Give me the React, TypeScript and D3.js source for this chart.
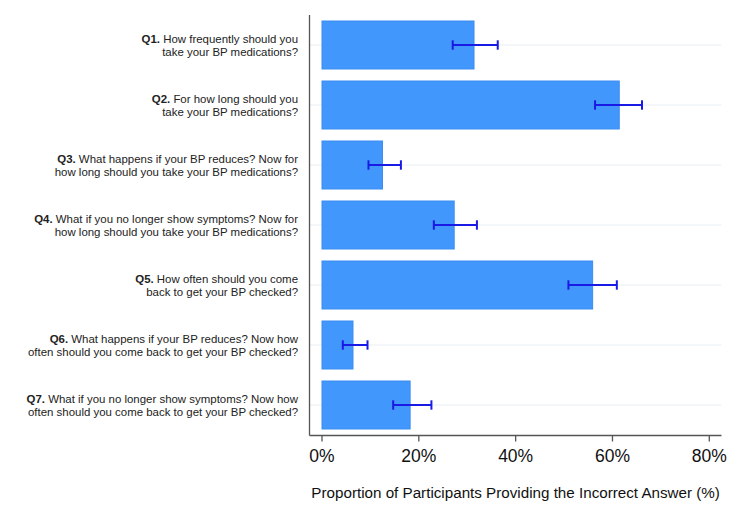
import React from "react";
import * as d3 from "d3";

const questionIds = ["Q1.", "Q2.", "Q3.", "Q4.", "Q5.", "Q6.", "Q7."];
const questionLines: string[][] = [
  ["How frequently should you", "take your BP medications?"],
  ["For how long should you", "take your BP medications?"],
  ["What happens if your BP reduces? Now for", "how long should you take your BP medications?"],
  ["What if you no longer show symptoms? Now for", "how long should you take your BP medications?"],
  ["How often should you come", "back to get your BP checked?"],
  ["What happens if your BP reduces? Now how", "often should you come back to get your BP checked?"],
  ["What if you no longer show symptoms? Now how", "often should you come back to get your BP checked?"],
];
const values = [31.4, 61.4, 12.5, 27.3, 55.9, 6.4, 18.2];
const lower = [27.0, 56.4, 9.6, 23.1, 50.9, 4.3, 14.7];
const upper = [36.3, 66.1, 16.3, 32.0, 60.9, 9.4, 22.6];
const ticks = [0, 20, 40, 60, 80];
const xTitle = "Proportion of Participants Providing the Incorrect Answer (%)";

const W = 744;
const H = 510;
const plotLeft = 309.5;
const plotRight = 721.5;
const plotTop = 15;
const plotBottom = 435.5;

export default function App() {
  const x = d3.scaleLinear().domain([0, 80]).range([322, 709.3]);
  const y = d3
    .scaleBand<string>()
    .domain(questionIds)
    .range([plotTop, plotBottom - 0.5])
    .paddingInner(0.2)
    .paddingOuter(0.1);
  const font = "'Liberation Sans', Arial, Helvetica, sans-serif";

  return (
    <svg
      width={W}
      height={H}
      style={{ position: "absolute", left: 0, top: 0, background: "#fff" }}
      fontFamily={font}
    >
      {/* gridlines */}
      {questionIds.map((q) => {
        const cy = (y(q) as number) + y.bandwidth() / 2;
        return (
          <line
            key={"g" + q}
            x1={plotLeft}
            x2={plotRight}
            y1={cy}
            y2={cy}
            stroke="#e9eef2"
            strokeWidth={1}
          />
        );
      })}
      {/* bars */}
      {questionIds.map((q, i) => (
        <rect
          key={"b" + q}
          x={x(0)}
          y={y(q) as number}
          width={x(values[i]) - x(0)}
          height={y.bandwidth()}
          fill="#4297fd"
          stroke="#3a8cf2"
          strokeWidth={1}
        />
      ))}
      {/* error bars */}
      {questionIds.map((q, i) => {
        const cy = (y(q) as number) + y.bandwidth() / 2;
        const x1 = x(lower[i]);
        const x2 = x(upper[i]);
        return (
          <g key={"e" + q} stroke="#1a1ae6" strokeWidth={2}>
            <line x1={x1} x2={x2} y1={cy} y2={cy} />
            <line x1={x1} x2={x1} y1={cy - 4.7} y2={cy + 4.7} />
            <line x1={x2} x2={x2} y1={cy - 4.7} y2={cy + 4.7} />
          </g>
        );
      })}
      {/* axes */}
      <line x1={plotLeft} x2={plotLeft} y1={plotTop} y2={plotBottom} stroke="#555" strokeWidth={1.3} />
      <line x1={plotLeft} x2={plotRight} y1={plotBottom} y2={plotBottom} stroke="#555" strokeWidth={1.3} />
      {ticks.map((t) => (
        <g key={"t" + t}>
          <line x1={x(t)} x2={x(t)} y1={plotBottom} y2={plotBottom + 6} stroke="#555" strokeWidth={1.3} />
          <text x={x(t)} y={462} textAnchor="middle" fontSize={17.5} fill="#111">
            {t + "%"}
          </text>
        </g>
      ))}
      {/* y labels */}
      {questionIds.map((q, i) => {
        const cy = (y(q) as number) + y.bandwidth() / 2;
        return (
          <g key={"l" + q} fontSize={11.45} fill="#222" textAnchor="end">
            <text x={298} y={cy - 2.3}>
              <tspan fontWeight="bold">{q}</tspan>
              {" " + questionLines[i][0]}
            </text>
            <text x={298} y={cy + 10.7}>
              {questionLines[i][1]}
            </text>
          </g>
        );
      })}
      <text x={(x(0) + x(80)) / 2} y={498} textAnchor="middle" fontSize={15.2} fill="#111">
        {xTitle}
      </text>
    </svg>
  );
}
